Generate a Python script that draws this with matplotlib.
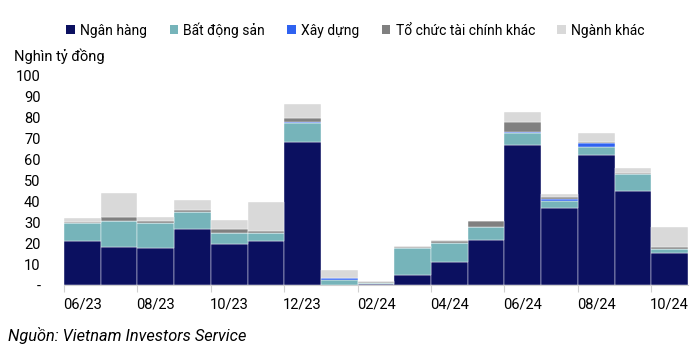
import numpy as np
import matplotlib
matplotlib.use("Agg")
import matplotlib.pyplot as plt
from matplotlib.patches import Patch

plt.rcParams['font.family'] = ['Roboto', 'DejaVu Sans']

thang = ["06/23", "07/23", "08/23", "09/23", "10/23", "11/23", "12/23", "01/24", "02/24",
         "03/24", "04/24", "05/24", "06/24", "07/24", "08/24", "09/24", "10/24"]
ngan_hang = [21.0, 18.0, 17.8, 26.6, 19.4, 21.2, 68.2, 0.0, 0.3, 4.6, 10.8, 21.3, 66.9, 36.6, 62.3, 44.9, 15.3]
bat_dong_san = [8.5, 12.7, 12.0, 8.4, 5.4, 3.8, 9.4, 2.4, 0.5, 12.9, 9.4, 6.6, 5.9, 3.4, 3.8, 8.3, 2.1]
xay_dung = [0.1, 0.0, 0.0, 0.0, 0.0, 0.0, 0.4, 0.9, 0.3, 0.0, 0.0, 0.0, 0.5, 0.9, 1.6, 0.0, 0.0]
tctc_khac = [0.6, 1.6, 0.9, 0.7, 2.1, 0.8, 1.9, 0.2, 0.2, 0.8, 0.7, 2.7, 4.6, 1.3, 0.6, 0.2, 0.6]
nganh_khac = [1.9, 11.8, 1.8, 5.1, 4.3, 13.7, 6.7, 3.9, 0.4, 0.5, 0.6, 0.1, 4.8, 1.1, 4.5, 2.7, 9.9]

nhom = ["Ngân hàng", "Bất động sản", "Xây dựng", "Tổ chức tài chính khác", "Ngành khác"]
mau = ["#0b1060", "#76b4ba", "#2f62f0", "#808080", "#d9d9d9"]
chuoi = [ngan_hang, bat_dong_san, xay_dung, tctc_khac, nganh_khac]

fig = plt.figure(figsize=(7, 3.54), dpi=100)
ax = fig.add_axes([64 / 700, 1 - 285 / 354, 624 / 700, 209.3 / 354])

x = np.arange(len(thang))
day = np.zeros(len(thang))
for ten, m, v in zip(nhom, mau, chuoi):
    v = np.array(v)
    ax.bar(x, v, width=1.0, bottom=day, color=m, edgecolor="white", linewidth=0.3)
    day += v

ax.set_xlim(-0.5, len(thang) - 0.5)
ax.set_ylim(0, 100)
ax.set_yticks(np.arange(0, 101, 10))
ax.set_yticklabels(["-"] + [str(t) for t in range(10, 101, 10)], fontsize=10.5)
ax.tick_params(axis="y", length=0, pad=17)

ax.set_xticks(x[::2])
ax.set_xticklabels(thang[::2], fontsize=10.5)
ax.set_xticks(np.arange(-0.5, len(thang) - 1, 2), minor=True)
ax.tick_params(axis="x", which="major", length=0, pad=9)
ax.tick_params(axis="x", which="minor", length=5, color="#d0d0d0", width=0.8)

for s in ["top", "right", "left"]:
    ax.spines[s].set_visible(False)
ax.spines["bottom"].set_color("#d0d0d0")
ax.spines["bottom"].set_linewidth(0.8)

handles = [Patch(facecolor=m, edgecolor="none") for m in mau]
fig.legend(handles, nhom, loc="center", bbox_to_anchor=(0.508, 1 - 30 / 354), ncol=5,
           frameon=False, fontsize=10, handlelength=0.6, handleheight=0.6,
           handletextpad=0.4, columnspacing=1.6)

fig.text(14 / 700, 1 - 56 / 354, "Nghìn tỷ đồng", fontsize=10.5, va="center", ha="left")
fig.text(8 / 700, 1 - 336 / 354, "Nguồn: Vietnam Investors Service", fontsize=11.8,
         style="italic", va="center", ha="left")

fig.savefig("out.png", dpi=100)
